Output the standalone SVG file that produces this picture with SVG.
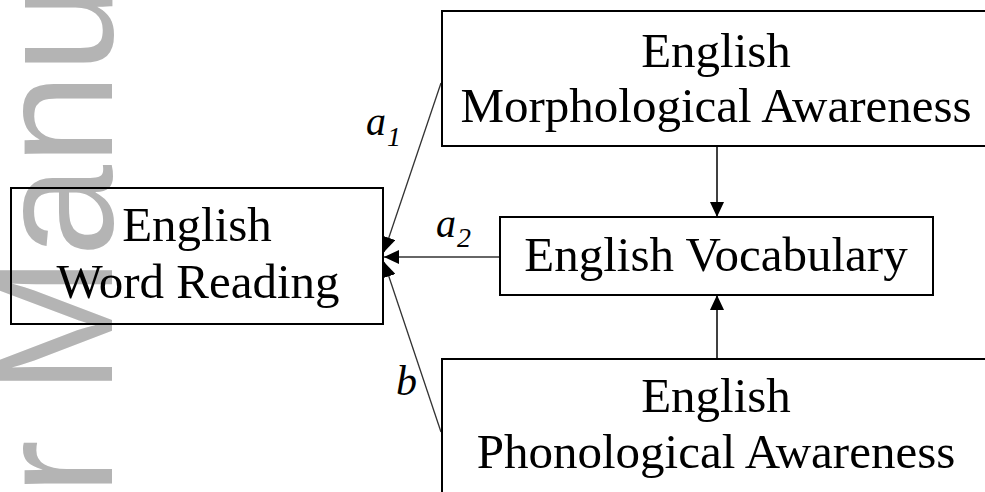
<svg xmlns="http://www.w3.org/2000/svg" width="985" height="492" viewBox="0 0 985 492">
<defs>
<style>
.box{fill:none;stroke:#000;stroke-width:2}
.lbl{font-family:"Liberation Serif","Times New Roman",serif;font-size:49px;fill:#000;text-anchor:middle}
.coef{font-family:"Liberation Serif","Times New Roman",serif;font-style:italic;fill:#000}
.edge{fill:none;stroke:#333;stroke-width:1.3}
.vedge{fill:none;stroke:#000;stroke-width:1.5}
.wm{font-family:"Liberation Sans",Arial,sans-serif;font-size:165px;fill:#b4b4b4}
</style>
<marker id="ah" markerUnits="userSpaceOnUse" markerWidth="16" markerHeight="14" refX="15" refY="7" orient="auto">
<path d="M0,0 L15,7 L0,14 Z" fill="#000"/>
</marker>
</defs>
<rect width="985" height="492" fill="#fff"/>
<text class="wm" transform="translate(112,495) rotate(-90)">r Manu</text>
<g id="connectors">
<line class="edge" x1="441" y1="83" x2="384" y2="252" marker-end="url(#ah)"/>
<line class="edge" x1="500" y1="257" x2="384" y2="257" marker-end="url(#ah)"/>
<line class="edge" x1="441" y1="432" x2="384" y2="262" marker-end="url(#ah)"/>
<line class="vedge" x1="717" y1="146" x2="717" y2="217" marker-end="url(#ah)"/>
<line class="vedge" x1="717" y1="359" x2="717" y2="295" marker-end="url(#ah)"/>
<text class="coef" x="366" y="135" font-size="40">a<tspan font-size="28" dx="1" dy="11">1</tspan></text>
<text class="coef" x="436" y="237" font-size="40">a<tspan font-size="28" dx="1" dy="10">2</tspan></text>
<text class="coef" x="396" y="395" font-size="42">b</text>
</g>
<g id="word-reading">
<rect class="box" x="11" y="188" width="372" height="136"/>
<text class="lbl" x="197" y="241">English</text>
<text class="lbl" x="198" y="298">Word Reading</text>
</g>
<g id="morphological">
<rect class="box" x="442" y="11" width="560" height="135"/>
<text class="lbl" x="716" y="67">English</text>
<text class="lbl" x="716" y="122">Morphological Awareness</text>
</g>
<g id="vocabulary">
<rect class="box" x="500" y="217" width="433" height="78"/>
<text class="lbl" x="716" y="271">English Vocabulary</text>
</g>
<g id="phonological">
<rect class="box" x="442" y="359" width="560" height="160"/>
<text class="lbl" x="716" y="412">English</text>
<text class="lbl" x="716" y="468">Phonological Awareness</text>
</g>
</svg>
